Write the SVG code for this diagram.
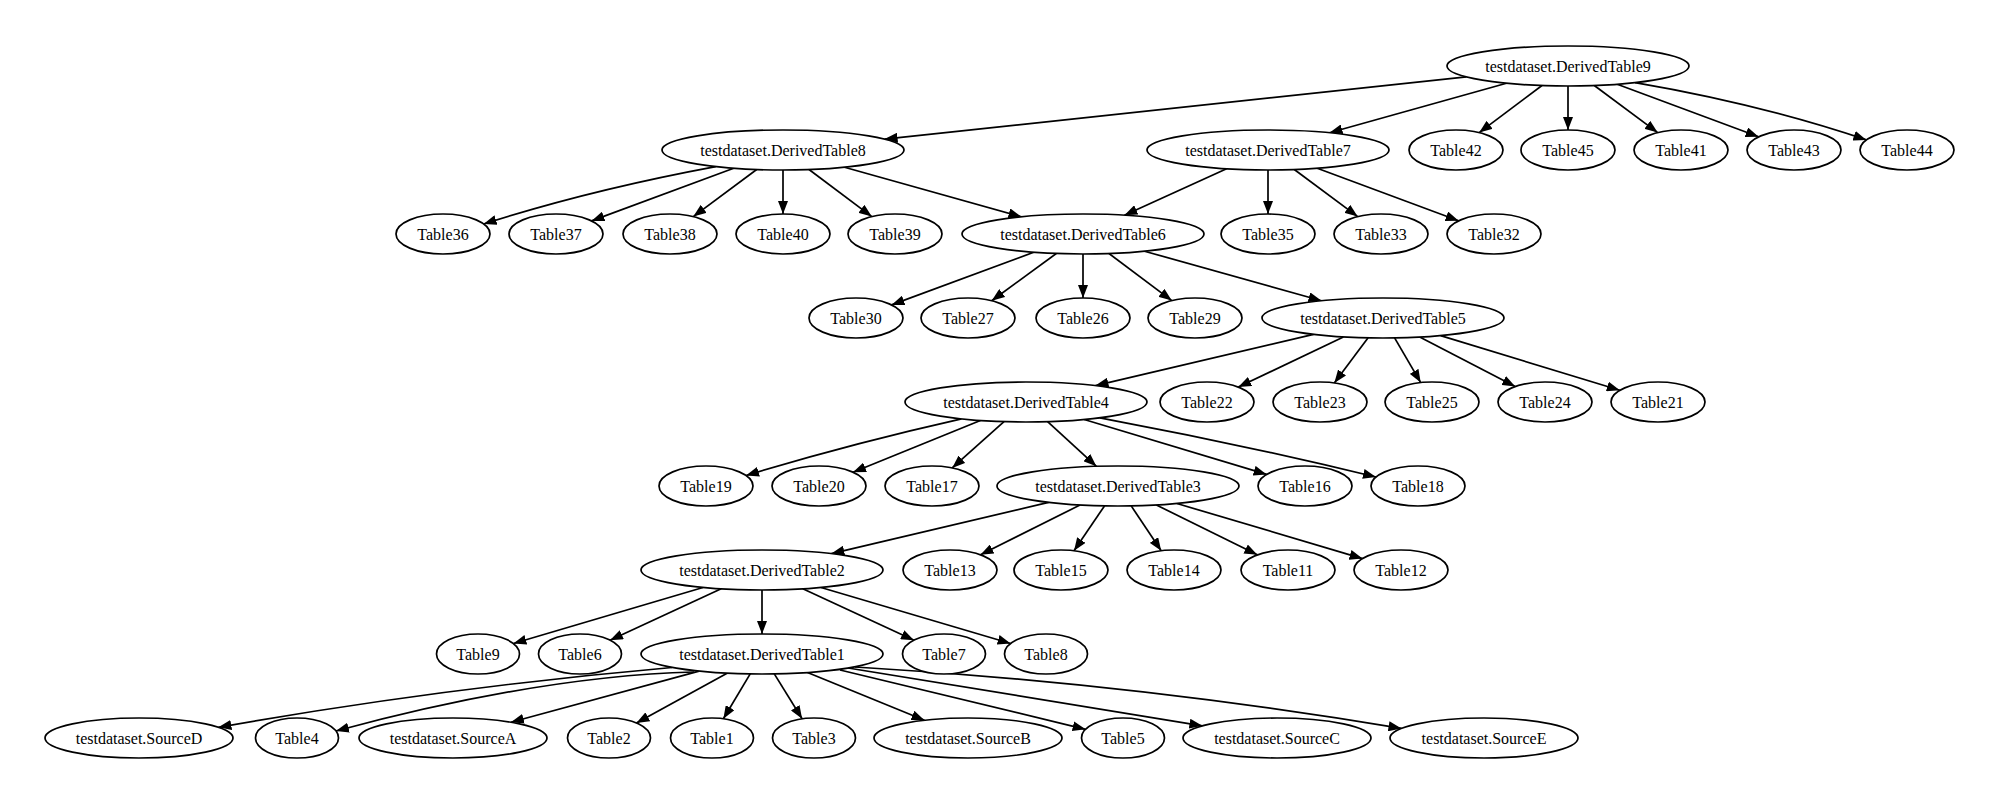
<svg xmlns="http://www.w3.org/2000/svg" width="2000" height="806" viewBox="0 0 2000 806">
<style>
.node ellipse{fill:#ffffff;stroke:#000000;stroke-width:1.7}
.node text{font-family:"Liberation Serif","Times New Roman",serif;font-size:16px;text-anchor:middle;fill:#000000}
#edges path{fill:none;stroke:#000000;stroke-width:1.7;marker-end:url(#arrow)}
</style>
<defs>
<marker id="arrow" markerUnits="userSpaceOnUse" markerWidth="13" markerHeight="10" refX="13" refY="5" orient="auto">
<path d="M0,0 L13,5 L0,10 Z" fill="#000000"/>
</marker>
</defs>
<rect x="0" y="0" width="2000" height="806" fill="#ffffff"/>
<g id="edges">
<path d="M1466.4,76.9 L884.6,139.1"/>
<path d="M1506.5,83.2 L1329.5,132.8"/>
<path d="M1542,85.5 L1479.2,132.6"/>
<path d="M1568,86 L1568,130"/>
<path d="M1594.3,85.5 L1657.7,132.6"/>
<path d="M1617.2,84.3 L1758.6,136.8"/>
<path d="M1635.1,82.6 Q1760,104 1866.4,139.9"/>
<path d="M715.7,166.6 Q590,190 483.6,224"/>
<path d="M733.7,168.3 L591.5,220.9"/>
<path d="M756.7,169.5 L693.3,216.6"/>
<path d="M783,170 L783,214"/>
<path d="M809,169.5 L871.8,216.6"/>
<path d="M844.5,167.2 L1021.5,216.8"/>
<path d="M1226.6,168.8 L1124.4,215.2"/>
<path d="M1268,170 L1268,214"/>
<path d="M1294.3,169.5 L1357.7,216.6"/>
<path d="M1317.2,168.3 L1458.6,220.8"/>
<path d="M1033.7,252.3 L891.5,304.9"/>
<path d="M1056.3,253.5 L991.7,300.7"/>
<path d="M1083,254 L1083,298"/>
<path d="M1109,253.5 L1171.8,300.6"/>
<path d="M1144.5,251.2 L1321.5,300.8"/>
<path d="M1313.5,334.4 L1095.5,385.6"/>
<path d="M1343.4,336.9 L1238.3,387.1"/>
<path d="M1368.1,337.8 L1334.3,382.9"/>
<path d="M1394.6,337.9 L1420.7,382.6"/>
<path d="M1419.7,337.1 L1515.2,386.5"/>
<path d="M1440.6,335.6 L1619.8,390.3"/>
<path d="M961.5,418.9 Q850,444 746,475.5"/>
<path d="M980.4,420.5 L853,472.2"/>
<path d="M1004,421.7 L952.2,467.9"/>
<path d="M1047.6,421.7 L1096.4,466.3"/>
<path d="M1084.2,419.5 L1266.6,474.4"/>
<path d="M1099.9,417.8 Q1240,444 1376,477"/>
<path d="M1048.6,502.4 L831.4,553.6"/>
<path d="M1080,505 L980.5,554.8"/>
<path d="M1104.5,505.9 L1074,550.8"/>
<path d="M1131.2,505.9 L1161.2,550.8"/>
<path d="M1156.4,505 L1257.3,554.8"/>
<path d="M1176.9,503.5 L1362.5,558.6"/>
<path d="M703,587.5 L513.4,643.5"/>
<path d="M721.2,588.8 L610,640.2"/>
<path d="M762,590 L762,634"/>
<path d="M802.8,588.8 L914,640.2"/>
<path d="M821,587.5 L1010.6,643.5"/>
<path d="M672,667.5 Q440,688 218.4,727.3"/>
<path d="M694,672 Q540,676 335.9,731"/>
<path d="M699.1,671.1 L510.9,722.2"/>
<path d="M727.1,673.2 L636.4,723"/>
<path d="M750.2,673.9 L723.4,718.8"/>
<path d="M774.3,673.9 L802.1,718.8"/>
<path d="M807.5,672.5 L924.5,720.3"/>
<path d="M840,670 L1085.6,729.3"/>
<path d="M848.1,668 L1202.4,725.8"/>
<path d="M855,667 Q1130,683 1401.5,728.4"/>
</g>
<g id="n_DerivedTable9" class="node"><ellipse cx="1568" cy="66" rx="121" ry="20"/><text x="1568" y="71.5">testdataset.DerivedTable9</text></g>
<g id="n_DerivedTable8" class="node"><ellipse cx="783" cy="150" rx="121" ry="20"/><text x="783" y="155.5">testdataset.DerivedTable8</text></g>
<g id="n_DerivedTable7" class="node"><ellipse cx="1268" cy="150" rx="121" ry="20"/><text x="1268" y="155.5">testdataset.DerivedTable7</text></g>
<g id="n_Table42" class="node"><ellipse cx="1456" cy="150" rx="47" ry="20"/><text x="1456" y="155.5">Table42</text></g>
<g id="n_Table45" class="node"><ellipse cx="1568" cy="150" rx="47" ry="20"/><text x="1568" y="155.5">Table45</text></g>
<g id="n_Table41" class="node"><ellipse cx="1681" cy="150" rx="47" ry="20"/><text x="1681" y="155.5">Table41</text></g>
<g id="n_Table43" class="node"><ellipse cx="1794" cy="150" rx="47" ry="20"/><text x="1794" y="155.5">Table43</text></g>
<g id="n_Table44" class="node"><ellipse cx="1907" cy="150" rx="47" ry="20"/><text x="1907" y="155.5">Table44</text></g>
<g id="n_Table36" class="node"><ellipse cx="443" cy="234" rx="47" ry="20"/><text x="443" y="239.5">Table36</text></g>
<g id="n_Table37" class="node"><ellipse cx="556" cy="234" rx="47" ry="20"/><text x="556" y="239.5">Table37</text></g>
<g id="n_Table38" class="node"><ellipse cx="670" cy="234" rx="47" ry="20"/><text x="670" y="239.5">Table38</text></g>
<g id="n_Table40" class="node"><ellipse cx="783" cy="234" rx="47" ry="20"/><text x="783" y="239.5">Table40</text></g>
<g id="n_Table39" class="node"><ellipse cx="895" cy="234" rx="47" ry="20"/><text x="895" y="239.5">Table39</text></g>
<g id="n_DerivedTable6" class="node"><ellipse cx="1083" cy="234" rx="121" ry="20"/><text x="1083" y="239.5">testdataset.DerivedTable6</text></g>
<g id="n_Table35" class="node"><ellipse cx="1268" cy="234" rx="47" ry="20"/><text x="1268" y="239.5">Table35</text></g>
<g id="n_Table33" class="node"><ellipse cx="1381" cy="234" rx="47" ry="20"/><text x="1381" y="239.5">Table33</text></g>
<g id="n_Table32" class="node"><ellipse cx="1494" cy="234" rx="47" ry="20"/><text x="1494" y="239.5">Table32</text></g>
<g id="n_Table30" class="node"><ellipse cx="856" cy="318" rx="47" ry="20"/><text x="856" y="323.5">Table30</text></g>
<g id="n_Table27" class="node"><ellipse cx="968" cy="318" rx="47" ry="20"/><text x="968" y="323.5">Table27</text></g>
<g id="n_Table26" class="node"><ellipse cx="1083" cy="318" rx="47" ry="20"/><text x="1083" y="323.5">Table26</text></g>
<g id="n_Table29" class="node"><ellipse cx="1195" cy="318" rx="47" ry="20"/><text x="1195" y="323.5">Table29</text></g>
<g id="n_DerivedTable5" class="node"><ellipse cx="1383" cy="318" rx="121" ry="20"/><text x="1383" y="323.5">testdataset.DerivedTable5</text></g>
<g id="n_DerivedTable4" class="node"><ellipse cx="1026" cy="402" rx="121" ry="20"/><text x="1026" y="407.5">testdataset.DerivedTable4</text></g>
<g id="n_Table22" class="node"><ellipse cx="1207" cy="402" rx="47" ry="20"/><text x="1207" y="407.5">Table22</text></g>
<g id="n_Table23" class="node"><ellipse cx="1320" cy="402" rx="47" ry="20"/><text x="1320" y="407.5">Table23</text></g>
<g id="n_Table25" class="node"><ellipse cx="1432" cy="402" rx="47" ry="20"/><text x="1432" y="407.5">Table25</text></g>
<g id="n_Table24" class="node"><ellipse cx="1545" cy="402" rx="47" ry="20"/><text x="1545" y="407.5">Table24</text></g>
<g id="n_Table21" class="node"><ellipse cx="1658" cy="402" rx="47" ry="20"/><text x="1658" y="407.5">Table21</text></g>
<g id="n_Table19" class="node"><ellipse cx="706" cy="486" rx="47" ry="20"/><text x="706" y="491.5">Table19</text></g>
<g id="n_Table20" class="node"><ellipse cx="819" cy="486" rx="47" ry="20"/><text x="819" y="491.5">Table20</text></g>
<g id="n_Table17" class="node"><ellipse cx="932" cy="486" rx="47" ry="20"/><text x="932" y="491.5">Table17</text></g>
<g id="n_DerivedTable3" class="node"><ellipse cx="1118" cy="486" rx="121" ry="20"/><text x="1118" y="491.5">testdataset.DerivedTable3</text></g>
<g id="n_Table16" class="node"><ellipse cx="1305" cy="486" rx="47" ry="20"/><text x="1305" y="491.5">Table16</text></g>
<g id="n_Table18" class="node"><ellipse cx="1418" cy="486" rx="47" ry="20"/><text x="1418" y="491.5">Table18</text></g>
<g id="n_DerivedTable2" class="node"><ellipse cx="762" cy="570" rx="121" ry="20"/><text x="762" y="575.5">testdataset.DerivedTable2</text></g>
<g id="n_Table13" class="node"><ellipse cx="950" cy="570" rx="47" ry="20"/><text x="950" y="575.5">Table13</text></g>
<g id="n_Table15" class="node"><ellipse cx="1061" cy="570" rx="47" ry="20"/><text x="1061" y="575.5">Table15</text></g>
<g id="n_Table14" class="node"><ellipse cx="1174" cy="570" rx="47" ry="20"/><text x="1174" y="575.5">Table14</text></g>
<g id="n_Table11" class="node"><ellipse cx="1288" cy="570" rx="47" ry="20"/><text x="1288" y="575.5">Table11</text></g>
<g id="n_Table12" class="node"><ellipse cx="1401" cy="570" rx="47" ry="20"/><text x="1401" y="575.5">Table12</text></g>
<g id="n_Table9" class="node"><ellipse cx="478" cy="654" rx="41.5" ry="20"/><text x="478" y="659.5">Table9</text></g>
<g id="n_Table6" class="node"><ellipse cx="580" cy="654" rx="41.5" ry="20"/><text x="580" y="659.5">Table6</text></g>
<g id="n_DerivedTable1" class="node"><ellipse cx="762" cy="654" rx="121" ry="20"/><text x="762" y="659.5">testdataset.DerivedTable1</text></g>
<g id="n_Table7" class="node"><ellipse cx="944" cy="654" rx="41.5" ry="20"/><text x="944" y="659.5">Table7</text></g>
<g id="n_Table8" class="node"><ellipse cx="1046" cy="654" rx="41.5" ry="20"/><text x="1046" y="659.5">Table8</text></g>
<g id="n_SourceD" class="node"><ellipse cx="139" cy="738" rx="94" ry="20"/><text x="139" y="743.5">testdataset.SourceD</text></g>
<g id="n_Table4" class="node"><ellipse cx="297" cy="738" rx="41.5" ry="20"/><text x="297" y="743.5">Table4</text></g>
<g id="n_SourceA" class="node"><ellipse cx="453" cy="738" rx="94" ry="20"/><text x="453" y="743.5">testdataset.SourceA</text></g>
<g id="n_Table2" class="node"><ellipse cx="609" cy="738" rx="41.5" ry="20"/><text x="609" y="743.5">Table2</text></g>
<g id="n_Table1" class="node"><ellipse cx="712" cy="738" rx="41.5" ry="20"/><text x="712" y="743.5">Table1</text></g>
<g id="n_Table3" class="node"><ellipse cx="814" cy="738" rx="41.5" ry="20"/><text x="814" y="743.5">Table3</text></g>
<g id="n_SourceB" class="node"><ellipse cx="968" cy="738" rx="94" ry="20"/><text x="968" y="743.5">testdataset.SourceB</text></g>
<g id="n_Table5" class="node"><ellipse cx="1123" cy="738" rx="41.5" ry="20"/><text x="1123" y="743.5">Table5</text></g>
<g id="n_SourceC" class="node"><ellipse cx="1277" cy="738" rx="94" ry="20"/><text x="1277" y="743.5">testdataset.SourceC</text></g>
<g id="n_SourceE" class="node"><ellipse cx="1484" cy="738" rx="94" ry="20"/><text x="1484" y="743.5">testdataset.SourceE</text></g>
</svg>
